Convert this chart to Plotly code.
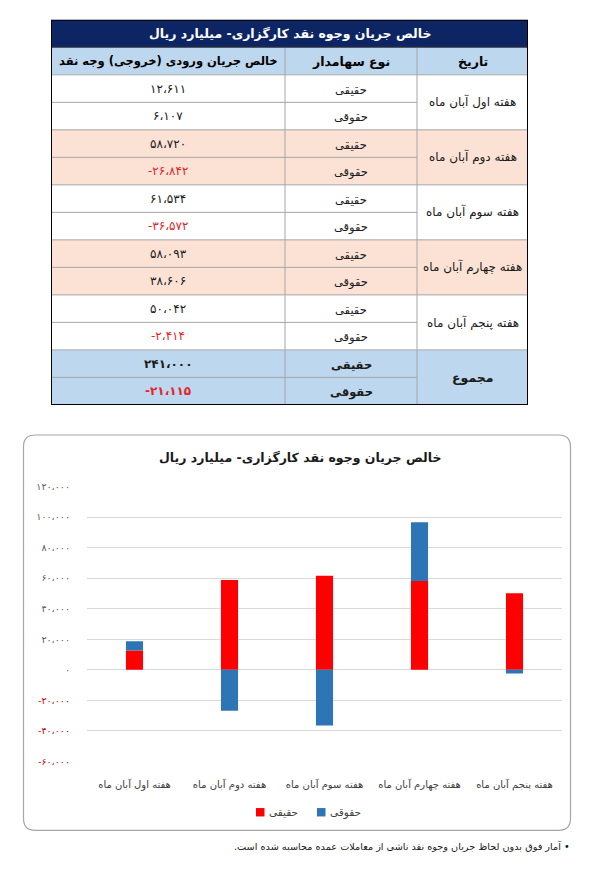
import plotly.graph_objects as go


# values in billion rials
weeks = ["هفته اول آبان ماه", "هفته دوم آبان ماه", "هفته سوم آبان ماه",
         "هفته چهارم آبان ماه", "هفته پنجم آبان ماه"]
haghighi = [12611, 58720, 61534, 58093, 50042]
hoghooghi = [6107, -26842, -36572, 38606, -2414]
investor_types = ["حقیقی", "حقوقی"]
total_label = "مجموع"

table_title = "خالص جریان وجوه نقد کارگزاری- میلیارد ریال"
table_headers = ["خالص جریان ورودی (خروجی) وجه نقد", "نوع سهامدار", "تاریخ"]
chart_title = "خالص جریان وجوه نقد کارگزاری- میلیارد ریال"
y_ticks = [120000, 100000, 80000, 60000, 40000, 20000, 0, -20000, -40000, -60000]
footnote = "• آمار فوق بدون لحاظ جریان وجوه نقد ناشی از معاملات عمده محاسبه شده است."

W, H = 607, 872
FONT = "DejaVu Sans"
RED = "#FF0000"
BLUE = "#2E75B6"
NEG = "#E3242B"
FA_DIGITS = str.maketrans("0123456789", "۰۱۲۳۴۵۶۷۸۹")
RLM = "\u200f"


def fa_num(v):
    s = f"{abs(v):,}".replace(",", "،").translate(FA_DIGITS)
    return "-" + s if v < 0 else s


def px(x):
    return x / W


def py(y):
    return 1 - y / H


fig = go.Figure()

# ---- bar chart ----
series_colors = [RED, BLUE]
for name, vals, col in zip(investor_types, [haghighi, hoghooghi], series_colors):
    fig.add_trace(go.Bar(x=weeks, y=vals, name=name, showlegend=False,
                         marker=dict(color=col, line=dict(width=0))))

# negative tick labels are dark red in the reference
tick_text = []
for v in y_ticks:
    c = "#C00000" if v < 0 else "#595959"
    tick_text.append(f"<span style='color:{c}'>{fa_num(v)}</span>")


# ---- table drawn with shapes on its own axes ----
# columns left to right: value, investor type, date
col_edges = [0, 234, 366, 477]
n_rows = 2 + 2 * len(weeks) + 2
shapes = []
annotations = []


def cell_rect(x0, x1, r0, r1, fill):
    shapes.append(dict(type="rect", xref="x2", yref="y2", x0=x0, x1=x1, y0=r0, y1=r1,
                       fillcolor=fill, line=dict(width=0), layer="below"))


def hline(x0, x1, r, color="#A6A6A6", width=1):
    shapes.append(dict(type="line", xref="x2", yref="y2", x0=x0, x1=x1, y0=r, y1=r,
                       line=dict(color=color, width=width)))


def cell_text(col, row, text, size=12, color="#1a1a1a", bold=False):
    if bold:
        text = f"<b>{text}</b>"
    annotations.append(dict(xref="x2", yref="y2", x=(col_edges[col] + col_edges[col + 1]) / 2,
                            y=row, text=text, showarrow=False,
                            font=dict(family=FONT, size=size, color=color)))


# title row
cell_rect(0, col_edges[-1], 0, 1, "#0E2564")
annotations.append(dict(xref="x2", yref="y2", x=col_edges[-1] / 2, y=0.5,
                        text=f"<b>{table_title}</b>", showarrow=False,
                        font=dict(family=FONT, size=12.5, color="white")))
# header row
cell_rect(0, col_edges[-1], 1, 2, "#BDD7EE")
for c, h in enumerate(table_headers):
    cell_text(c, 1.5, h, size=11.5 if c == 0 else 12.5, color="#000000", bold=True)

groups = [(w, [a, b]) for w, a, b in zip(weeks, haghighi, hoghooghi)]
groups.append((total_label, [sum(haghighi), sum(hoghooghi)]))
fills = ["white", "#FBE2D5", "white", "#FBE2D5", "white", "#BDD7EE"]

for g, (label, vals) in enumerate(groups):
    r = 2 + 2 * g
    is_total = g == len(groups) - 1
    cell_rect(0, col_edges[-1], r, r + 2, fills[g])
    for k, v in enumerate(vals):
        cell_text(0, r + k + 0.5, fa_num(v), size=12,
                  color=NEG if v < 0 else "#1a1a1a", bold=is_total)
        cell_text(1, r + k + 0.55, investor_types[k], size=11.5, color="#1a1a1a", bold=is_total)
    cell_text(2, r + 1, label, size=12 if not is_total else 12.5, color="#1a1a1a", bold=is_total)
    hline(0, col_edges[2], r + 1)
    hline(0, col_edges[-1], r)

for xe in col_edges[1:3]:
    shapes.append(dict(type="line", xref="x2", yref="y2", x0=xe, x1=xe, y0=1, y1=n_rows,
                       line=dict(color="#A6A6A6", width=1)))
hline(0, col_edges[-1], 1, color="#404040")
shapes.append(dict(type="rect", xref="x2", yref="y2", x0=0, x1=col_edges[-1], y0=0, y1=n_rows,
                   line=dict(color="#000000", width=2)))

# ---- rounded frame around the chart ----
bx0, bx1, by0, by1 = px(23.5), px(570.5), py(434.5), py(835)
rx, ry = px(12), 12 / H
path = (f"M {bx0 + rx},{by0} L {bx1 - rx},{by0} Q {bx1},{by0} {bx1},{by0 - ry} "
        f"L {bx1},{by1 + ry} Q {bx1},{by1} {bx1 - rx},{by1} "
        f"L {bx0 + rx},{by1} Q {bx0},{by1} {bx0},{by1 + ry} "
        f"L {bx0},{by0 - ry} Q {bx0},{by0} {bx0 + rx},{by0} Z")
shapes.append(dict(type="path", xref="paper", yref="paper", path=path,
                   line=dict(color="#A6A6A6", width=1.2), layer="below"))

# ---- legend: small square followed by the label, like the Excel one ----
legend_x = [256, 317]
for x0, name, col in zip(legend_x, investor_types, series_colors):
    shapes.append(dict(type="rect", xref="paper", yref="paper",
                       x0=px(x0), x1=px(x0 + 8.5), y0=py(812.3), y1=py(820.8),
                       fillcolor=col, line=dict(width=0)))
    annotations.append(dict(xref="paper", yref="paper", x=px(x0 + 11), y=py(816.5),
                            xanchor="left", yanchor="middle", text=name, showarrow=False,
                            font=dict(family=FONT, size=10.5, color="#404040")))

annotations.append(dict(xref="paper", yref="paper", x=px(300), y=py(457),
                        text=f"<b>{chart_title}</b>", showarrow=False,
                        font=dict(family=FONT, size=12.5, color="#1a1a1a")))
annotations.append(dict(xref="paper", yref="paper", x=px(572), y=py(859), xanchor="right",
                        text=RLM + footnote + RLM, showarrow=False,
                        font=dict(family=FONT, size=9.7, color="#1a1a1a")))

fig.update_layout(
    width=W, height=H,
    margin=dict(l=0, r=0, t=0, b=0),
    paper_bgcolor="white", plot_bgcolor="white",
    barmode="relative", bargap=0.82,
    showlegend=False,
    xaxis=dict(domain=[px(87), px(562)], showgrid=False, showline=False, ticks="",
               tickfont=dict(family=FONT, size=10, color="#404040"), ticklabelstandoff=16),
    yaxis=dict(domain=[py(765), py(486.7)], range=[-60000, 120000], tickvals=y_ticks,
               ticktext=tick_text, showgrid=True, gridcolor="#D9D9D9", gridwidth=1,
               zeroline=False, showline=False, ticklabelstandoff=16,
               tickfont=dict(family=FONT, size=9.5, color="#595959")),
    xaxis2=dict(domain=[px(51), px(528)], range=[0, col_edges[-1]], visible=False,
                anchor="y2", fixedrange=True),
    yaxis2=dict(domain=[py(404), py(14)], range=[n_rows, 0], visible=False,
                anchor="x2", fixedrange=True),
    shapes=shapes,
    annotations=annotations,
)

fig.write_html("out.html", config={"displayModeBar": False},
               post_script="document.body.style.margin='0';")
